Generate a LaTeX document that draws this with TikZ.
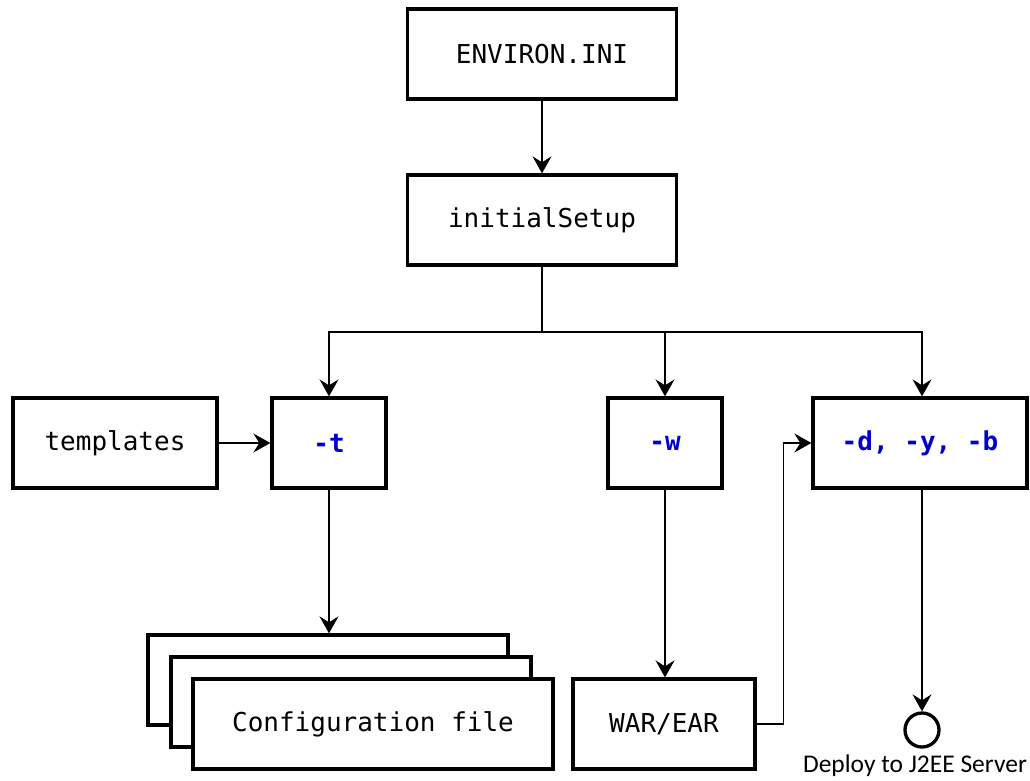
\documentclass[tikz,border=0pt]{standalone}
\usepackage{fontspec}
\newfontfamily\boxfont{DejaVu Sans Mono}
\newfontfamily\notefont{Carlito}
\usetikzlibrary{arrows.meta}
\definecolor{optblue}{RGB}{0,0,204}
\tikzset{
  box/.style={draw, fill=white, line width=3.3pt, inner sep=0pt, minimum height=90pt,
    font=\boxfont\fontsize{26}{30}\selectfont},
  opt/.style={text=optblue, font=\boxfont\bfseries\fontsize{26}{30}\selectfont},
  link/.style={line width=1.2pt, -{Stealth[length=17pt,width=19pt,inset=6pt]}},
}
\begin{document}
\begin{tikzpicture}[x=1pt,y=-1pt]
      \useasboundingbox (0,0) rectangle (1030,781);
      \draw
        (542,54) node[box, minimum width=269pt] (env){ENVIRON.INI}
        (542,220) node[box, minimum width=269pt] (setup){initialSetup}
        (115,443) node[box, minimum width=204pt] (tpl){templates}
        (329,443) node[box, opt, minimum width=114pt] (t){-t}
        (665,443) node[box, opt, minimum width=114pt] (w){-w}
        (920,443) node[box, opt, minimum width=214pt] (dyb){-d, -y, -b}
        (328,680) node[box, minimum width=360pt] (cfgc){}
        (351,702) node[box, minimum width=360pt] (cfgb){}
        (373,724) node[box, minimum width=360pt] (cfga){Configuration file}
        (664,724) node[box, minimum width=182pt] (war){WAR/EAR}
        (922,730) node[circle, draw, line width=3.3pt, minimum size=34pt, inner sep=0pt] (srv){}
        (915,766) node[font=\notefont\fontsize{25.5}{28}\selectfont] (deploy){Deploy to J2EE Server};
      \coordinate (split) at (542,332);
      \begin{scope}[link]
        \draw (env) to (setup);
        \draw[-] (setup) to (split);
        \draw (split) -| (t.north);
        \draw (split) -| (w.north);
        \draw (split) -| (dyb.north -| srv);
        \draw (tpl) to (t);
        \draw (t) to (cfgc.north -| t);
        \draw (w) to (war.north -| w);
        \draw (war.east) -- ++(27,0) |- (dyb.west);
        \draw (dyb.south -| srv) to (srv);
      \end{scope}
    \end{tikzpicture}
\end{document}
